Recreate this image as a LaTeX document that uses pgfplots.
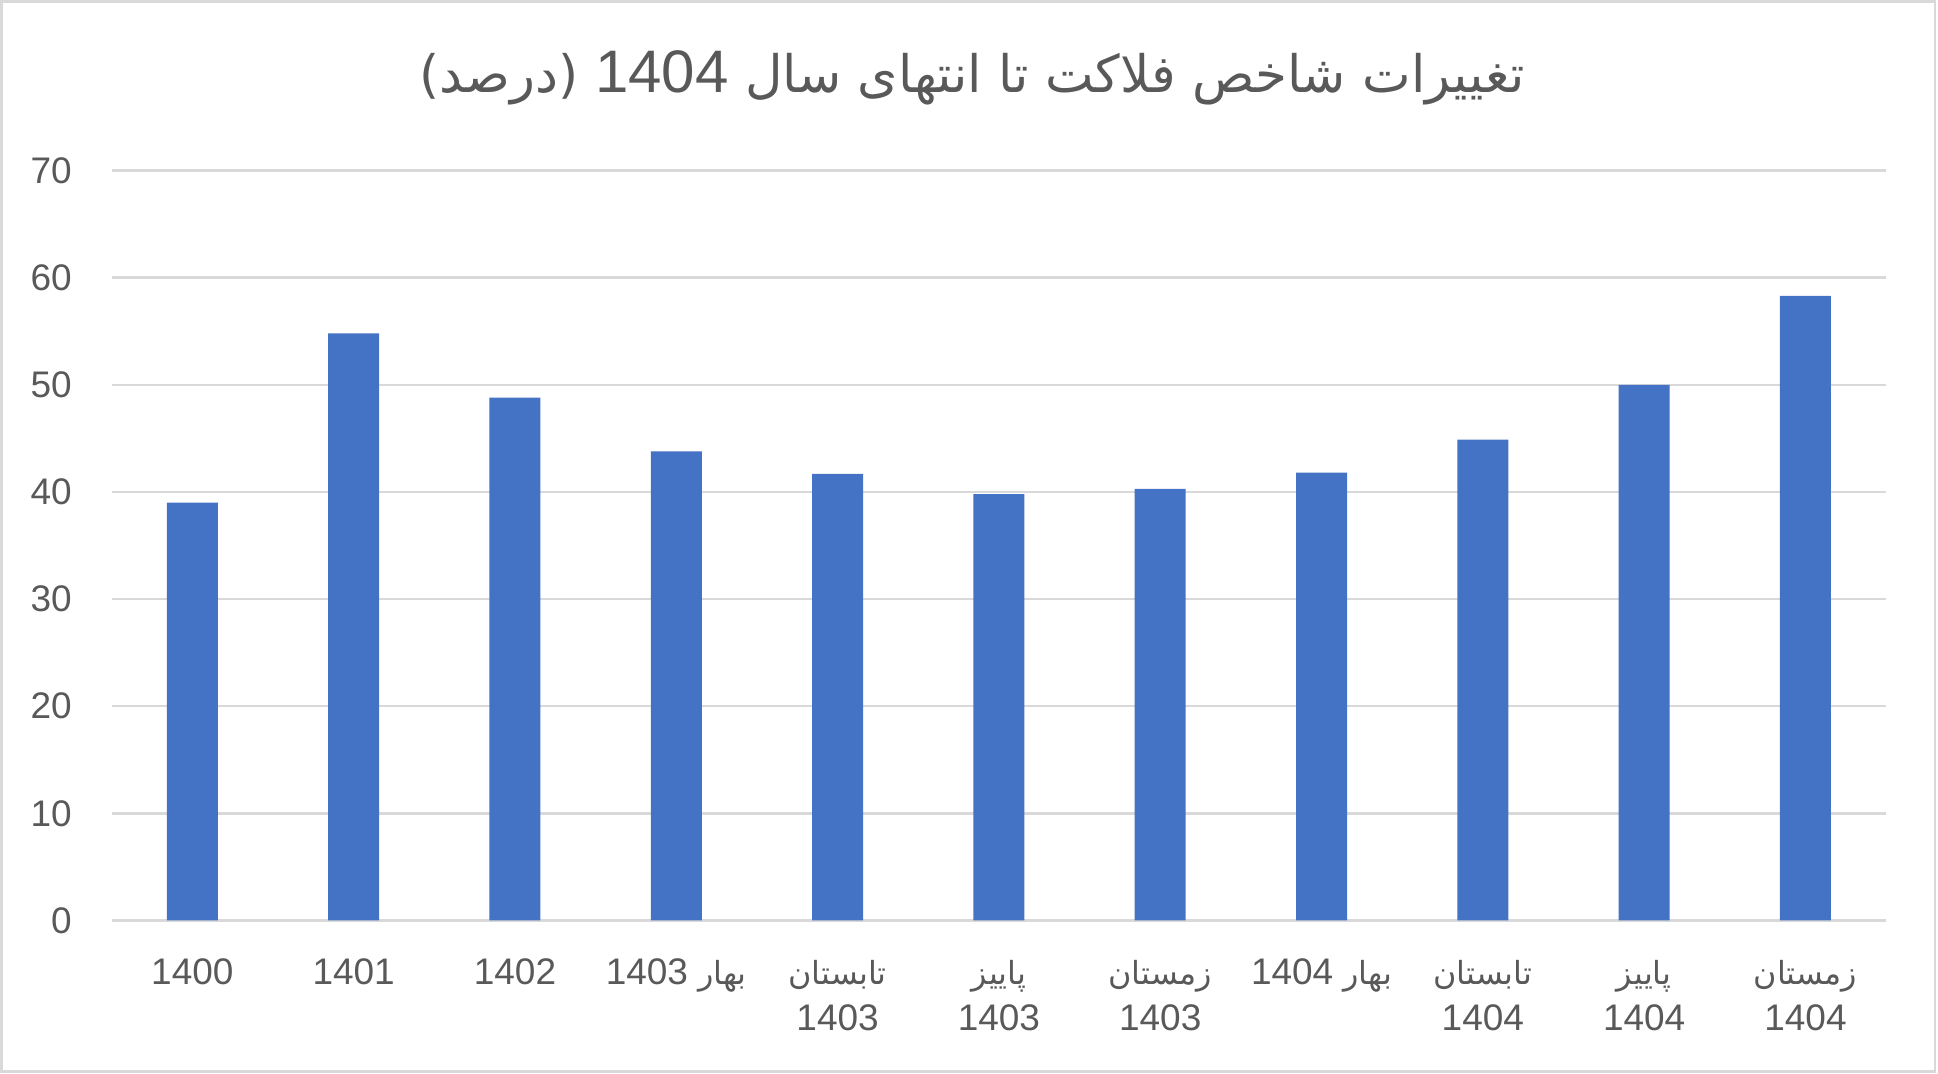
\documentclass[border=0pt]{standalone}
\usepackage{fontspec}
\setmainfont{Liberation Sans}
\newfontfamily\arabicfont[Script=Arabic, Scale=0.86]{DejaVu Sans}
\TeXXeTstate=1
\usepackage{pgfplots}
\pgfplotsset{compat=1.18}
\definecolor{barblue}{HTML}{4472C4}
\definecolor{gridgray}{HTML}{D9D9D9}
\definecolor{txtgray}{HTML}{595959}
\newcommand\fa[1]{{\arabicfont\beginR #1\endR}}
\newcommand\nm[1]{\beginL{\normalfont #1}\endL{}}
\newcommand\st{\rule{0pt}{15pt}}
\begin{document}
\begin{tikzpicture}[x=1pt,y=1pt]
\useasboundingbox (0,0) rectangle (969,537);
\draw[gridgray, line width=1.25pt] (0.75,1.25) rectangle (967.5,536.25);
\node[anchor=base, text=txtgray, font=\fontsize{30}{36}\selectfont, inner sep=0pt] at (486,490.5)
  {\fa{تغییرات شاخص فلاکت تا انتهای سال \nm{1404} (درصد)}};
\begin{axis}[
  at={(55.85pt,76.8pt)}, anchor=south west,
  scale only axis, width=887.2pt, height=374.85pt,
  ymin=0, ymax=70, ytick={0,10,...,70},
  xmin=-0.5, xmax=10.5, xtick={0,...,10},
  xticklabels={
    {\st 1400},
    {\st 1401},
    {\st 1402},
    {\st\fa{بهار \nm{1403}}},
    {\st\fa{تابستان}\\1403},
    {\st\fa{پاییز}\\1403},
    {\st\fa{زمستان}\\1403},
    {\st\fa{بهار \nm{1404}}},
    {\st\fa{تابستان}\\1404},
    {\st\fa{پاییز}\\1404},
    {\st\fa{زمستان}\\1404}
  },
  /pgf/number format/assume math mode=true,
  axis line style={draw=none},
  major tick length=0pt,
  tick style={draw=none},
  ymajorgrids,
  major grid style={gridgray, line width=1.3pt},
  ticklabel style={text=txtgray, font=\fontsize{18.5}{23}\selectfont},
  yticklabel style={anchor=east, inner sep=0pt, xshift=-19.8pt},
  xticklabel style={anchor=north, inner sep=0pt, align=center, yshift=-17pt},
  ybar, bar width=25.5pt,
]
\addplot[fill=barblue, draw=none] coordinates {
  (0,39.0) (1,54.8) (2,48.8) (3,43.8) (4,41.7) (5,39.8)
  (6,40.3) (7,41.8) (8,44.9) (9,50.0) (10,58.3)
};
\end{axis}
\end{tikzpicture}
\end{document}
